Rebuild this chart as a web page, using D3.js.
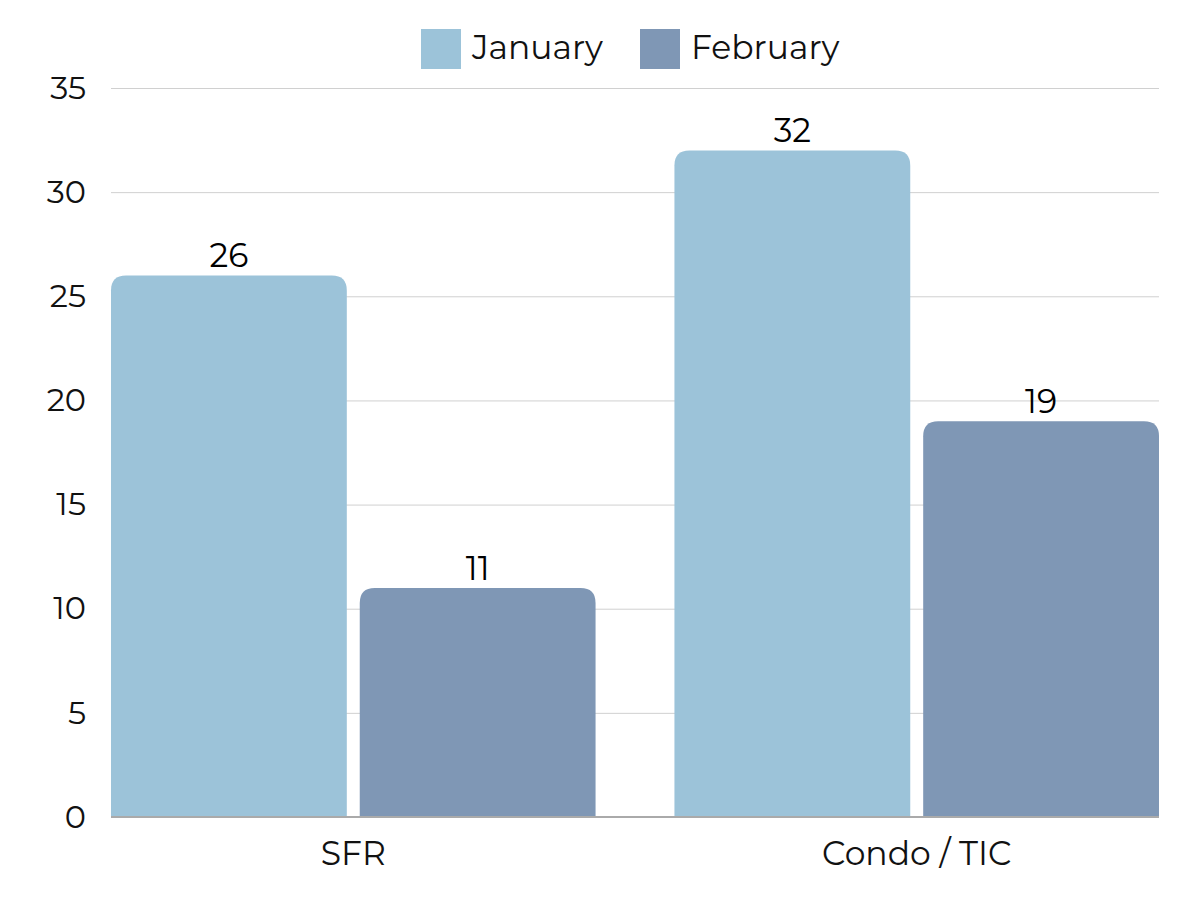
<!DOCTYPE html>
<html>
<head>
<meta charset="utf-8">
<script src="https://cdn.jsdelivr.net/npm/d3@7"></script>
<style>
  html, body { margin: 0; padding: 0; background: #fff; }
  svg { display: block; font-family: Montserrat, "Open Sans", sans-serif; }
</style>
</head>
<body>
<svg id="chart" width="1200" height="900"></svg>
<script>
const categories = ["SFR", "Condo / TIC"];
const seriesNames = ["January", "February"];
const january = [26, 32];
const february = [11, 19];
const yTicks = [0, 5, 10, 15, 20, 25, 30, 35];
const colors = ["#9cc3d9", "#7f97b5"];

const seriesValues = [january, february];
const rows = categories.map((c, i) => ({
  category: c,
  values: seriesNames.map((s, j) => ({ series: s, value: seriesValues[j][i], idx: j }))
}));

const svg = d3.select("#chart");
const m = { left: 111, right: 1159, top: 88, bottom: 817 };

const x0 = d3.scaleBand().domain(categories).range([m.left, m.right]).paddingInner(0.14).paddingOuter(0);
const x1 = d3.scaleBand().domain(seriesNames).range([0, x0.bandwidth()]).paddingInner(0.052).paddingOuter(0);
const y = d3.scaleLinear().domain([0, 35]).range([m.bottom, m.top]);
const color = d3.scaleOrdinal().domain(seriesNames).range(colors);

// gridlines
svg.append("g")
  .selectAll("line").data(yTicks.filter(t => t > 0)).join("line")
  .attr("x1", m.left).attr("x2", m.right)
  .attr("y1", d => y(d) + 0.5).attr("y2", d => y(d) + 0.5)
  .attr("stroke", "#d0d0d0").attr("stroke-width", 1);

// y axis labels
const yAxis = d3.axisLeft(y).tickValues(yTicks).tickSize(0).tickPadding(0);
const yg = svg.append("g").attr("transform", `translate(86,0)`).call(yAxis);
yg.select(".domain").remove();
yg.selectAll("text").attr("font-size", 32).attr("fill", "#111")
  .attr("font-family", 'Montserrat, "Open Sans", sans-serif');

// bars with rounded top corners
function topRounded(x, yTop, w, h, r) {
  r = Math.min(r, w / 2, h);
  return `M${x},${yTop + h}V${yTop + r}Q${x},${yTop} ${x + r},${yTop}H${x + w - r}Q${x + w},${yTop} ${x + w},${yTop + r}V${yTop + h}Z`;
}

const groups = svg.append("g").selectAll("g").data(rows).join("g")
  .attr("transform", d => `translate(${x0(d.category)},0)`);

groups.selectAll("path").data(d => d.values).join("path")
  .attr("d", d => topRounded(x1(d.series), y(d.value), x1.bandwidth(), y(0) - y(d.value), 15))
  .attr("fill", d => color(d.series));

groups.selectAll("text.val").data(d => d.values).join("text")
  .attr("class", "val")
  .attr("x", d => x1(d.series) + x1.bandwidth() / 2)
  .attr("y", d => y(d.value) - 8)
  .attr("text-anchor", "middle")
  .attr("font-size", 33)
  .attr("fill", "#000")
  .text(d => d.value);

// baseline
svg.append("line")
  .attr("x1", m.left).attr("x2", m.right)
  .attr("y1", y(0)).attr("y2", y(0))
  .attr("stroke", "#aaaaaa").attr("stroke-width", 2);

// x axis labels
const xAxis = d3.axisBottom(x0).tickSize(0).tickPadding(0);
const xg = svg.append("g").attr("transform", `translate(0,${y(0) + 48})`).call(xAxis);
xg.select(".domain").remove();
xg.selectAll("text").attr("font-size", 33).attr("fill", "#111").attr("dy", 0)
  .attr("font-family", 'Montserrat, "Open Sans", sans-serif');

// legend
const legendX = [421, 640];
const lg = svg.append("g").selectAll("g").data(seriesNames).join("g")
  .attr("transform", (d, i) => `translate(${legendX[i]},29)`);
lg.append("rect").attr("width", 40).attr("height", 40).attr("fill", d => color(d));
lg.append("text").attr("x", 51).attr("y", 30)
  .attr("font-size", 33).attr("fill", "#111").text(d => d);
</script>
</body>
</html>
